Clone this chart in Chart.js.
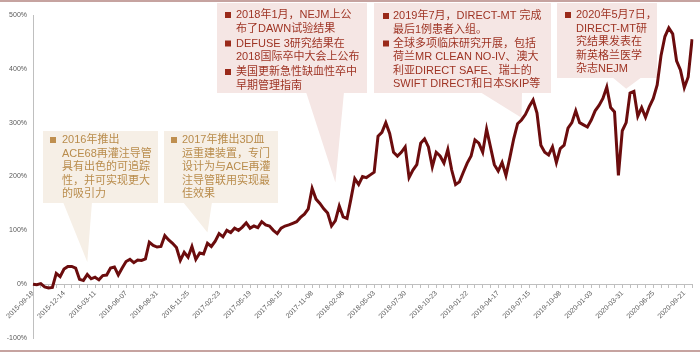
<!DOCTYPE html>
<html>
<head>
<meta charset="utf-8">
<script src="https://cdn.jsdelivr.net/npm/chart.js@4"></script>
<style>
  html, body { margin: 0; padding: 0; background: #fff; }
  #wrap { width: 700px; height: 353px; }
</style>
</head>
<body>
<div id="wrap"><canvas id="chart" width="700" height="353"></canvas></div>
<script>
// date labels shown on the x axis, one every STEP points
const tickLabels = ['2015-09-18', '2015-12-14', '2016-03-11', '2016-06-07', '2016-08-31', '2016-11-25',
    '2017-02-23', '2017-05-19', '2017-08-15', '2017-11-08', '2018-02-06', '2018-05-03', '2018-07-30',
    '2018-10-23', '2019-01-22', '2019-04-17', '2019-07-15', '2019-10-08', '2020-01-03', '2020-03-31',
    '2020-06-25', '2020-09-21'];
const STEP = 8;

// cumulative return in %
const values = [
    0, -1, 1, -5, -7, -6, 20, 14,
    28, 33, 33, 30, 9, 7, 18, 10,
    13, 8, 16, 17, 30, 32, 17, 30,
    42, 46, 40, 45, 44, 47, 78, 72,
    69, 70, 90, 82, 76, 68, 44, 59,
    50, 70, 46, 58, 56, 76, 70, 80,
    94, 88, 100, 96, 104, 100, 106, 114,
    104, 108, 105, 116, 110, 108, 100, 94,
    104, 108, 110, 113, 116, 124, 130, 140,
    178, 158, 150, 140, 132, 108, 118, 145,
    125, 122, 158, 196, 185, 200, 198, 203,
    208, 275, 282, 300, 280, 245, 238, 245,
    255, 198, 212, 222, 262, 270, 255, 218,
    245, 238, 225, 250, 212, 185, 190, 208,
    225, 238, 268, 262, 245, 288, 255, 222,
    210, 226, 202, 235, 270, 298, 305, 315,
    330, 342, 318, 258, 245, 240, 255, 226,
    252, 258, 290, 300, 322, 300, 296, 292,
    305, 322, 332, 345, 366, 328, 320, 202,
    285, 300, 355, 358, 312, 328, 310, 330,
    345, 370, 425, 460, 476, 465, 415, 398,
    365, 385, 455
];

const labels = values.map((v, i) => i % STEP === 0 ? tickLabels[i / STEP] : '');

// event call-outs: text per bullet, box in pixels, pointer tip in data units
const callouts = [
    {
        items: [['2016年推出', 'ACE68再灌注导管', '具有出色的可追踪', '性，并可实现更大', '的吸引力']],
        box: [43, 131, 158, 203], base: [63, 92], tip: [14, 41],
        fill: '#f6efe6', color: '#b98c4c', bullet: '#bf8f4f', bulletX: 7, textX: 19, first: 9, gap: 0
    },
    {
        items: [['2017年推出3D血', '运重建装置，专门', '设计为与ACE再灌', '注导管联用实现最', '佳效果']],
        box: [164, 131, 278, 203], base: [183, 212], tip: [45, 96],
        fill: '#f6efe6', color: '#b98c4c', bullet: '#bf8f4f', bulletX: 7, textX: 18, first: 9, gap: 0
    },
    {
        items: [['2018年1月，NEJM上公', '布了DAWN试验结果'], ['DEFUSE 3研究结果在', '2018国际卒中大会上公布'], ['美国更新急性缺血性卒中', '早期管理指南']],
        box: [217, 3, 367, 93], base: [306, 344], tip: [78, 189],
        fill: '#f5e6e4', color: '#9e3323', bullet: '#9a2a1a', bulletX: 8, textX: 19, first: 12, gap: 1.5
    },
    {
        items: [['2019年7月，DIRECT-MT 完成', '最后1例患者入组。'], ['全球多项临床研究开展，包括', '荷兰MR CLEAN NO-IV、澳大', '利亚DIRECT SAFE、瑞士的', 'SWIFT DIRECT和日本SKIP等']],
        box: [374, 3, 551, 93], base: [480, 522], tip: [126, 309],
        fill: '#f5e6e4', color: '#9e3323', bullet: '#9a2a1a', bulletX: 9, textX: 19, first: 13, gap: 0.5
    },
    {
        items: [['2020年5月7日，', 'DIRECT-MT研', '究结果发表在', '新英格兰医学', '杂志NEJM']],
        box: [557, 3, 657, 78], base: [612, 642], tip: [153, 363],
        fill: '#f5e6e4', color: '#9e3323', bullet: '#9a2a1a', bulletX: 8, textX: 19, first: 12, gap: 0
    }
];

const calloutPlugin = {
    id: 'callouts',
    beforeDatasetsDraw(chart) {
        const ctx = chart.ctx;
        const xs = chart.scales.x;
        const ys = chart.scales.y;
        ctx.save();
        callouts.forEach(c => {
            const tx = xs.getPixelForValue(c.tip[0]);
            const ty = ys.getPixelForValue(c.tip[1]);
            ctx.fillStyle = c.fill;
            ctx.fillRect(c.box[0], c.box[1], c.box[2] - c.box[0], c.box[3] - c.box[1]);
            ctx.beginPath();
            ctx.moveTo(c.base[0], c.box[3] - 1);
            ctx.lineTo(tx, ty);
            ctx.lineTo(c.base[1], c.box[3] - 1);
            ctx.closePath();
            ctx.fill();

            ctx.font = '11px "Liberation Sans", "Noto Sans CJK SC"';
            ctx.textBaseline = 'middle';
            let y = c.box[1] + c.first;
            c.items.forEach(lines => {
                ctx.fillStyle = c.bullet;
                ctx.fillRect(c.box[0] + c.bulletX, y - 3, 6, 6);
                ctx.fillStyle = c.color;
                lines.forEach(t => {
                    ctx.fillText(t, c.box[0] + c.textX, y);
                    y += 13.5;
                });
                y += c.gap;
            });
        });
        ctx.restore();
    },
    afterDraw(chart) {
        // thin frame lines at top and bottom
        const ctx = chart.ctx;
        ctx.save();
        ctx.strokeStyle = '#c6a3a0';
        ctx.lineWidth = 2;
        ctx.beginPath();
        ctx.moveTo(0, 1);
        ctx.lineTo(chart.width, 1);
        ctx.moveTo(0, 351);
        ctx.lineTo(chart.width, 351);
        ctx.stroke();
        ctx.restore();
    }
};

function createChart() {
    const ctx = document.getElementById('chart');

    new Chart(ctx, {
        type: 'line',
        data: {
            labels: labels,
            datasets: [{
                data: values,
                borderColor: '#6b0c0d',
                borderWidth: 3,
                pointRadius: 0,
                tension: 0
            }]
        },
        plugins: [calloutPlugin],
        options: {
            responsive: false,
            animation: false,
            layout: {
                autoPadding: false,
                padding: { top: 15, bottom: 15, left: 0, right: 6 }
            },
            plugins: {
                legend: { display: false },
                tooltip: { enabled: false }
            },
            scales: {
                x: {
                    position: { y: 0 },
                    afterFit: (s) => { s.height = 0; },
                    border: { display: true, color: '#bfbfbf', width: 1 },
                    grid: {
                        display: true,
                        drawOnChartArea: false,
                        drawTicks: true,
                        tickLength: 3,
                        tickColor: (c) => c.index % 2 ? 'rgba(0,0,0,0)' : '#bfbfbf'
                    },
                    ticks: {
                        autoSkip: false,
                        maxRotation: 45,
                        minRotation: 45,
                        padding: 2,
                        color: '#595959',
                        font: { family: '"Liberation Sans"', size: 7 }
                    }
                },
                y: {
                    min: -100,
                    max: 500,
                    afterFit: (s) => { s.width = 33; },
                    border: { display: true, color: '#bfbfbf', width: 1 },
                    grid: { display: false, drawTicks: false },
                    ticks: {
                        stepSize: 100,
                        padding: 6,
                        color: '#595959',
                        font: { family: '"Liberation Sans"', size: 7 },
                        callback: (v) => v + '%'
                    }
                }
            }
        }
    });
}

createChart();
</script>
</body>
</html>
